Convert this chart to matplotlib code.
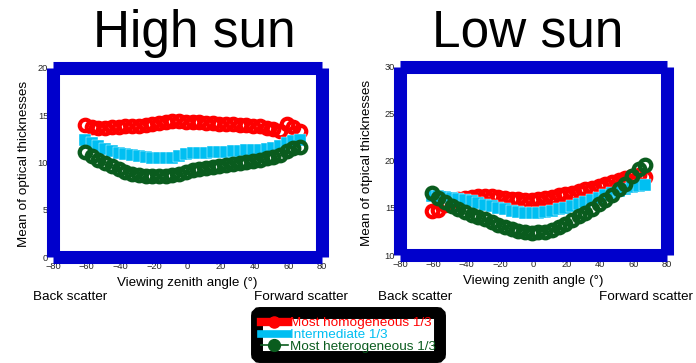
import matplotlib
matplotlib.use("Agg")
import matplotlib.pyplot as plt
from matplotlib.lines import Line2D

plt.rcParams['font.family'] = ['Liberation Sans', 'DejaVu Sans']

# Viewing zenith angles (degrees)
angles = [-61, -57, -53, -49, -45, -41, -37, -33, -29, -25, -21, -17, -13, -9, -5, -1,
          3, 7, 11, 15, 19, 23, 27, 31, 35, 39, 43, 47, 51, 55, 59, 63, 67]

# High sun: mean optical thickness per heterogeneity third
high_homog = [14.0, 13.8, 13.7, 13.7, 13.8, 13.8, 13.9, 13.9, 13.9, 14.0, 14.1, 14.2, 14.3,
              14.4, 14.4, 14.3, 14.3, 14.3, 14.2, 14.2, 14.1, 14.1, 14.1, 14.0, 14.0, 13.9,
              13.9, 13.6, 13.5, 13.3, 14.1, 13.8, 13.3]
high_inter = [12.4, 12.1, 11.7, 11.4, 11.2, 11.0, 10.9, 10.8, 10.7, 10.6, 10.5, 10.5, 10.5,
              10.5, 10.7, 10.9, 11.0, 11.0, 11.0, 11.1, 11.1, 11.1, 11.2, 11.2, 11.3, 11.3,
              11.3, 11.4, 11.5, 11.7, 12.1, 12.3, 12.4]
high_hetero = [11.1, 10.7, 10.3, 9.9, 9.6, 9.3, 9.0, 8.8, 8.7, 8.6, 8.6, 8.6, 8.6,
               8.7, 8.8, 9.0, 9.2, 9.3, 9.4, 9.5, 9.6, 9.7, 9.8, 9.9, 10.0, 10.2,
               10.3, 10.5, 10.6, 10.8, 11.2, 11.5, 11.6]

# Low sun
low_homog = [14.7, 14.8, 15.3, 15.7, 16.0, 16.1, 16.2, 16.3, 16.3, 16.3, 16.2, 16.1, 16.0,
             16.0, 15.9, 15.9, 16.0, 16.1, 16.2, 16.4, 16.5, 16.6, 16.8, 17.0, 17.1, 17.3,
             17.6, 17.8, 18.0, 18.2, 18.4, 18.5, 18.3]
low_inter = [16.3, 16.3, 16.2, 16.1, 16.0, 15.8, 15.7, 15.5, 15.3, 15.2, 15.0, 14.9, 14.7,
             14.6, 14.5, 14.5, 14.5, 14.6, 14.7, 14.9, 15.0, 15.2, 15.4, 15.6, 15.9, 16.1,
             16.4, 16.6, 16.8, 17.0, 17.2, 17.3, 17.4]
low_hetero = [16.6, 16.1, 15.6, 15.2, 14.9, 14.6, 14.3, 14.0, 13.8, 13.5, 13.2, 13.0, 12.8,
              12.6, 12.4, 12.3, 12.4, 12.5, 12.7, 13.0, 13.3, 13.7, 14.1, 14.5, 14.9, 15.4,
              15.9, 16.4, 17.0, 17.6, 18.4, 19.1, 19.6]

x_ticks = [-80, -60, -40, -20, 0, 20, 40, 60, 80]
high_yticks = [0, 5, 10, 15, 20]
low_yticks = [10, 15, 20, 25, 30]

series_labels = ["Most homogeneous 1/3", "Intermediate 1/3", "Most heterogeneous 1/3"]
RED = "#ff0000"
CYAN = "#00bff2"
GREEN = "#0a5c1e"
BLUE = "#0000cc"

fig = plt.figure(figsize=(6.96, 3.63), dpi=100)
ax1 = fig.add_axes([0.0762, 0.292, 0.3865, 0.5207])
ax2 = fig.add_axes([0.5747, 0.2975, 0.3836, 0.518])


def draw_panel(ax, homog, inter, hetero, yticks, ylabel, ylabel_x):
    ax.plot(angles, homog, linestyle='none', marker='o', markersize=8.3,
            markerfacecolor='none', markeredgecolor=RED, markeredgewidth=3.0, zorder=3)
    ax.plot(angles, inter, linestyle='none', marker='s', markersize=8.8,
            markerfacecolor=CYAN, markeredgecolor='white', markeredgewidth=0.3, zorder=4)
    ax.plot(angles, hetero, linestyle='none', marker='o', markersize=8.3,
            markerfacecolor='none', markeredgecolor=GREEN, markeredgewidth=3.1, zorder=5)
    ax.set_xlim(x_ticks[0], x_ticks[-1])
    ax.set_ylim(yticks[0], yticks[-1])
    ax.set_xticks(x_ticks)
    ax.set_yticks(yticks)
    ax.tick_params(length=0, labelsize=6.7, labelcolor='#262626', pad=3.5)
    for sp in ax.spines.values():
        sp.set_color(BLUE)
        sp.set_linewidth(9.4)
        sp.set_capstyle('butt')
        sp.set_zorder(6)
    ax.set_xlabel("Viewing zenith angle (°)", fontsize=9.6)
    ax.xaxis.set_label_coords(0.5, -0.138)
    ax.xaxis.label.set_verticalalignment('center')
    ax.set_ylabel(ylabel, fontsize=9.7)
    ax.yaxis.set_label_coords(ylabel_x, 0.49)
    ax.yaxis.label.set_verticalalignment('center')


draw_panel(ax1, high_homog, high_inter, high_hetero, high_yticks,
           "Mean of optical thicknesses", -0.108)
draw_panel(ax2, low_homog, low_inter, low_hetero, low_yticks,
           "Mean of otpical thicknesses", -0.124)

fig.text(0.2787, 1 - 46.7 / 363, "High sun", fontsize=37, ha='center', va='baseline')
fig.text(0.758, 1 - 46.7 / 363, "Low sun", fontsize=37, ha='center', va='baseline')

# Scattering direction notes under each panel
note_y = 1 - 297 / 363
fig.text(33 / 696, note_y, "Back scatter", fontsize=9.7, ha='left', va='center')
fig.text(348 / 696, note_y, "Forward scatter", fontsize=9.7, ha='right', va='center')
fig.text(378 / 696, note_y, "Back scatter", fontsize=9.7, ha='left', va='center')
fig.text(693 / 696, note_y, "Forward scatter", fontsize=9.7, ha='right', va='center')

handles = [
    Line2D([], [], color=RED, lw=6, marker='o', markersize=8,
           markerfacecolor=RED, markeredgecolor=RED),
    Line2D([], [], color=CYAN, lw=5.5),
    Line2D([], [], color=GREEN, lw=1.2, marker='o', markersize=8.5,
           markerfacecolor=GREEN, markeredgecolor=GREEN),
]
leg = fig.legend(handles, series_labels, loc='center',
                 bbox_to_anchor=(348.5 / 696, 1 - 335 / 363),
                 fontsize=9.7, numpoints=1, handlelength=2.0, handletextpad=0.15,
                 labelspacing=-0.05, borderpad=0.3, borderaxespad=0,
                 fancybox=True, framealpha=1)
frame = leg.get_frame()
frame.set_edgecolor('black')
frame.set_facecolor('white')
frame.set_linewidth(8.6)
for txt, col in zip(leg.get_texts(), [RED, CYAN, GREEN]):
    txt.set_color(col)

fig.savefig("out.png", dpi=100)
